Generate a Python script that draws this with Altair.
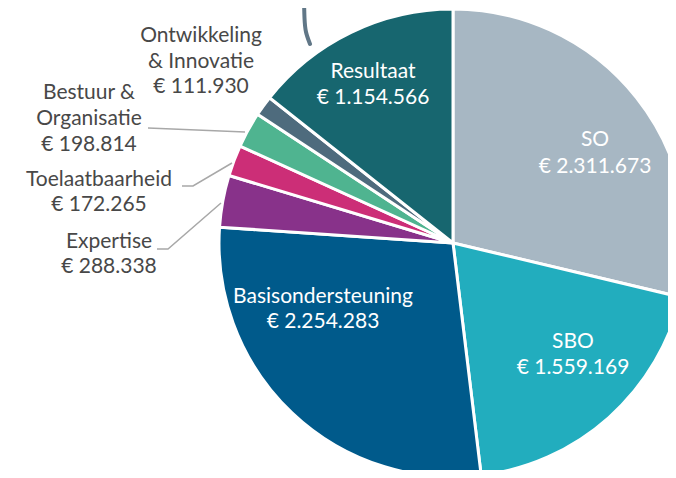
import altair as alt
import pandas as pd

# ---- data ----
categories = ["SO", "SBO", "Basisondersteuning", "Expertise", "Toelaatbaarheid",
              "Bestuur & Organisatie", "Ontwikkeling & Innovatie", "Resultaat"]
amounts = [2311673, 1559169, 2254283, 288338, 172265, 198814, 111930, 1154566]
amount_labels = ["€ 2.311.673", "€ 1.559.169", "€ 2.254.283", "€ 288.338",
                 "€ 172.265", "€ 198.814", "€ 111.930", "€ 1.154.566"]
name_lines = [["SO"], ["SBO"], ["Basisondersteuning"], ["Expertise"], ["Toelaatbaarheid"],
              ["Bestuur &", "Organisatie"], ["Ontwikkeling", "& Innovatie"], ["Resultaat"]]
colors = ["#a7b7c3", "#22adbe", "#005a8b", "#88328a", "#cc2e77",
          "#4fb490", "#4e6b7d", "#17666f"]
inside = [True, True, True, False, False, False, False, True]

# ---- layout (pixel positions of label blocks in the chart) ----
W, H = 660, 462
CX, CY, R = 445, 235, 234
label_anchor = {  # x centre, y of first line, line spacing
    "SO": (587, 132, 27),
    "SBO": (565, 334, 26),
    "Basisondersteuning": (315, 289, 25),
    "Resultaat": (365, 64, 26),
    "Ontwikkeling & Innovatie": (193, 28, 25.5),
    "Bestuur & Organisatie": (81, 85, 26),
    "Toelaatbaarheid": (91, 172, 25),
    "Expertise": (101, 234, 25),
}
leader_lines = {
    "Bestuur & Organisatie": [(140, 120), (237, 124)],
    "Toelaatbaarheid": [(174, 178), (185, 178), (224, 155)],
    "Expertise": [(149, 241), (160, 241), (213, 195)],
}
curve_pts = [(296, -8), (296.5, 10), (298, 24), (302, 36)]

pie_df = pd.DataFrame({"cat": categories, "value": amounts, "idx": list(range(len(categories)))})

rows = []
for i, c in enumerate(categories):
    x0, y0, dy = label_anchor[c]
    lines = name_lines[i] + [amount_labels[i]]
    for j, t in enumerate(lines):
        rows.append({"px": x0, "py": y0 + j * dy, "txt": t,
                     "col": "white" if inside[i] else "#484848"})
lab_df = pd.DataFrame(rows)

lrows = []
for k, pts in leader_lines.items():
    for j, (x, y) in enumerate(pts):
        lrows.append({"g": k, "o": j, "px": x, "py": y})
lead_df = pd.DataFrame(lrows)
curve_df = pd.DataFrame({"o": range(len(curve_pts)),
                         "px": [p[0] for p in curve_pts], "py": [p[1] for p in curve_pts]})

xs = alt.Scale(domain=[0, W], nice=False, zero=False)
ys = alt.Scale(domain=[0, H], nice=False, zero=False, reverse=True)

pie = alt.Chart(pie_df).mark_arc(radius=R, stroke="white", strokeWidth=3).encode(
    theta=alt.Theta("value:Q", stack=True),
    order=alt.Order("idx:Q"),
    color=alt.Color("cat:N", scale=alt.Scale(domain=categories, range=colors), legend=None),
    x=alt.value(CX), y=alt.value(CY),
)

leads = alt.Chart(lead_df).mark_line(color="#a8a8a8", strokeWidth=1.5).encode(
    x=alt.X("px:Q", scale=xs, axis=None),
    y=alt.Y("py:Q", scale=ys, axis=None),
    detail="g:N", order="o:Q",
)

curve = alt.Chart(curve_df).mark_line(color="#617787", strokeWidth=4, strokeCap="round",
                                      interpolate="natural").encode(
    x=alt.X("px:Q", scale=xs, axis=None),
    y=alt.Y("py:Q", scale=ys, axis=None),
    order="o:Q",
)

texts = alt.Chart(lab_df).mark_text(font="Lato", fontSize=21,
                                    baseline="middle", align="center").encode(
    x=alt.X("px:Q", scale=xs, axis=None),
    y=alt.Y("py:Q", scale=ys, axis=None),
    text="txt:N",
    color=alt.Color("col:N", scale=None),
)

chart = alt.layer(pie, leads, curve, texts).properties(
    width=W, height=H, padding=0,
    autosize=alt.AutoSizeParams(type="none"),
).configure_view(stroke=None)

chart.save("out.html", embed_options={"renderer": "svg", "actions": False})
